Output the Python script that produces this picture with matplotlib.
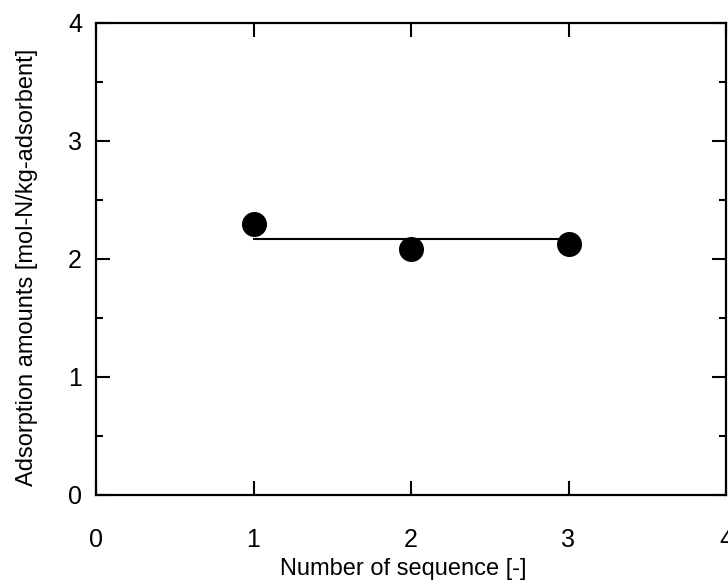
import matplotlib.pyplot as plt
from matplotlib.ticker import MultipleLocator

# data
sequence = [1, 2, 3]
adsorption = [2.30, 2.085, 2.13]
mean_line_x = [1, 3]
mean_value = sum(adsorption) / len(adsorption)

plt.rcParams['font.family'] = ['Liberation Sans', 'DejaVu Sans']

fig = plt.figure(figsize=(7.28, 5.84), dpi=100)
ax = fig.add_axes([96 / 728, 89 / 584, 630 / 728, 472 / 584])

ax.plot(mean_line_x, [mean_value, mean_value], color='black', lw=1.5, zorder=2)
ax.plot(sequence, adsorption, 'o', color='black', markersize=17, zorder=3)

ax.set_xlim(0, 4)
ax.set_ylim(0, 4)
ax.xaxis.set_major_locator(MultipleLocator(1))
ax.yaxis.set_major_locator(MultipleLocator(1))
ax.yaxis.set_minor_locator(MultipleLocator(0.5))

ax.tick_params(which='both', direction='in', top=True, right=True, width=1.5,
               labelsize=18)
ax.tick_params(which='major', length=10)
ax.tick_params(which='minor', length=5)
ax.tick_params(axis='x', pad=24)
ax.tick_params(axis='y', pad=10)
for s in ax.spines.values():
    s.set_linewidth(1.6)

ax.set_xlabel('Number of sequence [-]', fontsize=17)
ax.set_ylabel('Adsorption amounts [mol-N/kg-adsorbent]', fontsize=17)
ax.xaxis.set_label_coords(0.487, -0.134)
ax.yaxis.set_label_coords(-0.092, 0.483)

fig.savefig('out.png', dpi=100)
